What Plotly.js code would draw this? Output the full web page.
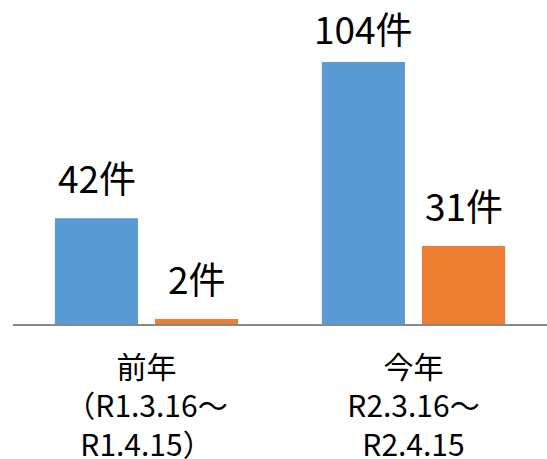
<!DOCTYPE html>
<html>
<head>
<meta charset="utf-8">
<script src="https://cdn.plot.ly/plotly-3.0.1.min.js"></script>
<style>html,body{margin:0;padding:0;background:#fff;}#chart{width:547px;height:459px;}</style>
</head>
<body>
<div id="chart"></div>
<script>
const categories = ["前年<br>（R1.3.16～<br>R1.4.15）", "今年<br>R2.3.16～<br>R2.4.15"];
const seriesA = [42, 104];
const seriesB = [2, 31];
const unit = "件";

const font = "'Noto Sans CJK JP', 'Noto Sans', sans-serif";

const traces = [
  {type: "bar", x: categories, y: seriesA, marker: {color: "#5B9BD5"}, hoverinfo: "none"},
  {type: "bar", x: categories, y: seriesB, marker: {color: "#ED7D31"}, hoverinfo: "none"}
];

// value labels placed through the axis scales, shifted to each bar of the group
const groupShift = 50;
const labelLiftA = [12, 5];
const labelLiftB = [12, 12];
const annotations = [];
categories.forEach((c, i) => {
  annotations.push({x: c, y: seriesA[i], xref: "x", yref: "y", text: seriesA[i] + unit,
    showarrow: false, xshift: -groupShift, yanchor: "bottom", yshift: labelLiftA[i],
    font: {size: 37, color: "#000", family: font}});
  annotations.push({x: c, y: seriesB[i], xref: "x", yref: "y", text: seriesB[i] + unit,
    showarrow: false, xshift: groupShift, yanchor: "bottom", yshift: labelLiftB[i],
    font: {size: 37, color: "#000", family: font}});
});

const layout = {
  width: 547, height: 459,
  margin: {l: 13, r: 0, t: 0, b: 135},
  barmode: "group", bargap: 0.25, bargroupgap: 0.17,
  showlegend: false,
  paper_bgcolor: "#fff", plot_bgcolor: "#fff",
  font: {family: font, color: "#000"},
  annotations: annotations,
  xaxis: {showline: true, linecolor: "#898989", linewidth: 2, ticks: "",
          tickfont: {size: 30, family: font, color: "#000"}, ticklabelstandoff: 16,
          showgrid: false, zeroline: false},
  yaxis: {range: [0, 128.6], visible: false, showgrid: false, zeroline: false}
};

Plotly.newPlot("chart", traces, layout, {staticPlot: true});
</script>
</body>
</html>
